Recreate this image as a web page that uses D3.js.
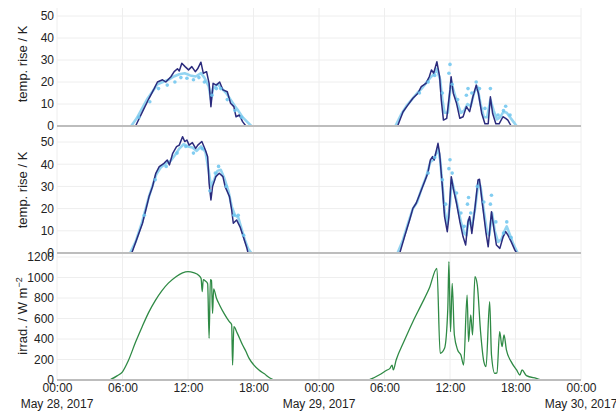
<!DOCTYPE html>
<html>
<head>
<meta charset="utf-8">
<script src="https://cdn.jsdelivr.net/npm/d3@7"></script>
<style>
  body { margin: 0; background: #fff; }
  text { font-family: "Liberation Sans", Arial, Helvetica, sans-serif; fill: #222; }
</style>
</head>
<body>
<svg id="chart" width="616" height="412"></svg>
<script>
// hours since May 28, 2017 00:00 -> value

// top panel: temperature rise / K
var rise1Measured = [
  [7.2,0],[7.83,6.5],[8.44,12.6],[8.9,17],[9.2,20],[9.66,21],[9.97,20],[10.43,22.4],[10.73,24.7],
  [11.04,26],[11.2,25],[11.44,28.5],[11.74,27],[12.05,25.5],[12.35,27],[12.66,24.7],[12.88,26],
  [13.18,29],[13.4,24],[13.7,24.7],[13.94,19.4],[14.1,8.8],[14.3,19.4],[14.6,18.6],[14.9,20],
  [15.2,16.4],[15.6,15.6],[15.9,10.3],[16.2,8.8],[16.4,4.2],[16.7,5],[17.0,2],[17.3,0],
  [31.2,0],[31.7,6.5],[32.14,9.5],[32.6,12.6],[33.06,14.9],[33.37,17.9],[33.8,19.4],[34.1,22.4],
  [34.3,25.5],[34.5,24],[34.8,29.2],[35.05,22.4],[35.2,11.8],[35.4,2.7],[35.7,3.5],[36.0,16.4],
  [36.1,22.4],[36.3,14.9],[36.6,10.3],[36.9,3.5],[37.2,4.2],[37.5,8.8],[37.8,6.5],[38.1,13.3],
  [38.4,18.6],[38.6,14.9],[38.9,5.8],[39.2,1],[39.5,1],[39.7,13.3],[39.9,5.8],[40.2,1],[40.5,1],
  [40.85,4.2],[41.1,3.5],[41.3,2.7],[41.6,0]
];
var rise1Model = [
  [6.8,0],[7.3,3.5],[7.8,8],[8.3,12.5],[8.8,16],[9.2,19],[9.7,20],[10.2,21],[10.7,22.5],[11.2,23.5],
  [11.7,24],[12.2,23],[12.7,22.5],[13.2,24],[13.5,22],[13.9,18],[14.1,12],[14.3,17],[14.7,19],
  [15.1,17],[15.5,15],[15.9,12],[16.3,9],[16.6,7],[17.0,4],[17.4,2],[17.8,0],
  [31.0,0],[31.5,5],[32.0,9],[32.5,12],[33.0,15],[33.4,17],[33.8,19.5],[34.2,22],[34.5,23.5],
  [34.8,26],[35.1,21],[35.3,12],[35.5,6],[35.8,6],[36.1,20],[36.4,15],[36.7,10],[37.0,6],[37.3,7],
  [37.6,10],[37.9,9],[38.2,15],[38.5,18],[38.8,10],[39.1,4],[39.4,4],[39.7,12],[40.0,7],[40.3,3],
  [40.6,4],[40.9,6.5],[41.2,6],[41.5,4],[41.8,2],[42.1,0]
];
var rise1Points = [
  [7.5,4],[8.5,11],[9.3,17],[10.1,18.6],[10.8,20],[11.35,22],[11.9,21.7],[12.5,21],[13.0,22],
  [13.5,20],[14.2,14],[14.6,17],[15.0,17],[15.6,12],[16.3,7],[16.9,4],
  [33.2,15],[34.0,20],[34.6,23],[35.3,15],[35.9,24],[36.0,28],[36.2,19],[36.7,12],[37.5,14],
  [37.65,17],[38.0,15],[38.4,20],[38.7,17],[39.2,8],[39.7,17],[40.4,5],[40.9,7],[41.1,9],[41.5,5]
];

// middle panel: temperature rise / K
var rise2Measured = [
  [6.85,0],[7.83,13.4],[8.44,25.4],[8.75,29.9],[9.05,35.9],[9.36,38.9],[9.8,40.4],[10.1,41.9],
  [10.3,39.7],[10.6,44.9],[10.95,47.9],[11.2,48.6],[11.5,52.4],[11.7,50.2],[11.9,50.9],[12.1,48.6],
  [12.4,49.7],[12.7,47.1],[12.9,48.6],[13.27,50.2],[13.6,46.3],[13.8,43.4],[13.94,31.4],[14.1,23.9],
  [14.25,29.9],[14.55,34.4],[14.86,35.9],[15.2,34.4],[15.4,29.9],[15.8,25.4],[16.0,19.4],
  [16.15,13.4],[16.45,14.9],[16.76,11.8],[17.06,7.3],[17.4,2.1],[17.5,0],
  [31.4,0],[31.83,7.3],[32.3,14.9],[32.6,20.1],[32.9,22.4],[33.2,26.1],[33.67,32.1],[33.97,35.9],
  [34.2,41.9],[34.4,43.4],[34.55,41.9],[34.9,49.4],[35.05,44.9],[35.3,29.9],[35.5,16.4],[35.75,9.6],
  [35.9,16.4],[36.12,34.4],[36.3,29.1],[36.6,22.4],[36.9,14.2],[37.2,7.3],[37.43,3.6],[37.65,14.1],
  [37.8,16.4],[38.0,8.8],[38.26,19.4],[38.56,32.9],[38.7,33.2],[39.0,20.9],[39.3,8.9],[39.5,2.8],
  [39.8,18.6],[39.95,13.4],[40.25,3.6],[40.56,2.1],[40.86,7.3],[41.1,9.6],[41.3,8.1],[41.6,5.1],
  [41.93,1.4],[42.1,0]
];
var rise2Model = [
  [6.7,0],[7.2,5],[7.8,14],[8.4,25],[8.8,31],[9.1,35.5],[9.5,38.5],[10.0,40.5],[10.4,41.5],[10.8,44],
  [11.2,47],[11.6,49],[12.0,48],[12.4,47.5],[12.8,46],[13.2,48],[13.6,45.5],[13.9,37],[14.1,30],
  [14.4,33],[14.7,37],[15.0,37.5],[15.3,34],[15.7,28],[16.0,21],[16.3,17],[16.6,16],[16.9,11],
  [17.2,6],[17.5,2],[17.8,0],
  [31.2,0],[31.7,6],[32.2,14],[32.6,20],[33.0,23],[33.4,29],[33.8,34],[34.2,41],[34.5,42],[34.9,47],
  [35.1,42],[35.3,31],[35.5,19],[35.75,13],[36.0,22],[36.15,33],[36.4,28],[36.7,21],[37.0,14],
  [37.3,9],[37.5,8],[37.7,15],[38.0,12],[38.3,20],[38.6,32],[38.8,30],[39.1,19],[39.4,9],[39.6,8],
  [39.85,18],[40.1,10],[40.4,5],[40.7,6],[41.0,10],[41.2,12],[41.5,8],[41.8,4],[42.2,0]
];
var rise2Points = [
  [8.0,17],[9.0,33],[10.0,39],[11.0,45],[11.8,48],[12.5,45],[13.3,47],[14.0,28],[14.5,36],
  [14.8,39],[15.5,30],[16.2,17],[16.6,17],[17.1,8],
  [34.0,36],[34.6,43],[35.3,33],[35.6,22],[35.9,38],[36.0,42],[36.2,36],[36.6,27],[37.0,18],
  [37.3,12],[37.6,22],[37.7,25],[37.9,18],[38.5,30],[39.1,23],[39.7,22],[39.8,26],[40.2,14],
  [40.9,9],[41.2,14],[41.6,7]
];

// bottom panel: irradiance / W m-2
var irradiance = [
  [0,0],[4.7,0],[5.0,10],[5.5,40],[6.0,80],[6.5,180],[7.2,370],[7.8,520],[8.4,660],[9.0,775],
  [9.6,870],[10.2,945],[10.9,1008],[11.5,1045],[12.0,1057],[12.5,1048],[13.0,1020],[13.2,990],
  [13.3,862],[13.4,980],[13.6,965],[13.8,940],[13.94,407],[14.05,980],[14.15,970],[14.25,650],
  [14.35,890],[14.6,800],[14.9,730],[15.3,650],[15.78,569],[16.0,540],[16.08,146],[16.2,520],
  [16.5,460],[17.0,341],[17.3,280],[17.6,211],[18.0,150],[18.5,98],[19.0,60],[19.5,20],[20.0,0],
  [28.5,0],[28.9,16],[29.5,49],[30.2,95],[30.5,114],[30.7,146],[30.8,98],[31.07,195],[31.8,380],
  [32.6,569],[33.4,740],[34.1,894],[34.8,1090],[35.1,260],[35.5,309],[35.8,700],[35.9,1155],
  [36.05,471],[36.2,943],[36.4,439],[36.7,293],[37.0,244],[37.25,146],[37.56,829],[37.7,374],
  [37.9,634],[38.07,439],[38.28,1008],[38.5,927],[38.8,471],[39.1,179],[39.3,130],[39.63,764],
  [39.8,244],[40.1,65],[40.3,70],[40.55,471],[40.77,325],[40.95,439],[41.16,293],[41.6,179],
  [42.1,98],[42.4,49],[42.6,98],[43.0,42],[43.9,16],[44.5,0],[48,0]
];

var riseTicks = [0, 10, 20, 30, 40, 50];
var irrTicks = [0, 200, 400, 600, 800, 1000, 1200];
var dateLabels = ["May 28, 2017", "May 29, 2017", "May 30, 2017"];

var svg = d3.select("#chart");
var start = new Date(2017, 4, 28, 0, 0);
var end = new Date(2017, 4, 30, 0, 0);
function toDate(h) { return d3.timeMinute.offset(start, Math.round(h * 60)); }

var x = d3.scaleTime().domain([start, end]).range([57, 581]);
var xTicks = d3.timeHour.every(6).range(start, d3.timeMinute.offset(end, 1));

var panels = [
  { top: 8, y: d3.scaleLinear().domain([0, 50]).range([126, 16]), ticks: riseTicks,
    title: "temp. rise / K", tc: 64 },
  { top: 126, y: d3.scaleLinear().domain([0, 50]).range([253, 142]), ticks: riseTicks,
    title: "temp. rise / K", tc: 190 },
  { top: 253, y: d3.scaleLinear().domain([0, 1200]).range([380, 257]), ticks: irrTicks,
    title: "irrad. / W m", tc: 316 }
];

// grids first
panels.forEach(function(p) {
  var g = svg.append("g");
  g.selectAll(".vg").data(xTicks).enter().append("line")
    .attr("x1", function(d) { return x(d); }).attr("x2", function(d) { return x(d); })
    .attr("y1", p.top).attr("y2", p.y(0))
    .attr("stroke", "#eeeeee").attr("stroke-width", 1);
  g.selectAll(".hg").data(p.ticks.slice(1)).enter().append("line")
    .attr("x1", x.range()[0]).attr("x2", x.range()[1])
    .attr("y1", function(d) { return p.y(d); }).attr("y2", function(d) { return p.y(d); })
    .attr("stroke", "#eeeeee").attr("stroke-width", 1);

  // y axis via d3 axis, no domain line
  var ax = svg.append("g").attr("transform", "translate(" + x.range()[0] + ",0)")
    .call(d3.axisLeft(p.y).tickValues(p.ticks).tickSize(0).tickPadding(3)
      .tickFormat(d3.format("d")));
  ax.select(".domain").remove();
  ax.selectAll("text").attr("font-size", 12)
    .attr("font-family", "Liberation Sans, Arial, sans-serif").attr("fill", "#333");

  var t = svg.append("text")
    .attr("transform", "translate(27," + p.tc + ") rotate(-90)")
    .attr("text-anchor", "middle").attr("font-size", 13).attr("fill", "#222")
    .text(p.title);
  if (p.title.indexOf("irrad") === 0) {
    t.append("tspan").attr("font-size", 9).attr("dy", -5).text("−2");
  }
});

var lineOf = function(p, curve) {
  return d3.line()
    .x(function(d) { return x(toDate(d[0])); })
    .y(function(d) { return p.y(d[1]); })
    .curve(curve || d3.curveLinear);
};

// split series at gaps (night) so lines aren't drawn across
function days(arr) {
  return [arr.filter(function(d) { return d[0] < 24; }), arr.filter(function(d) { return d[0] >= 24; })];
}

var tempSets = [
  { p: panels[0], model: rise1Model, meas: rise1Measured, pts: rise1Points },
  { p: panels[1], model: rise2Model, meas: rise2Measured, pts: rise2Points }
];

tempSets.forEach(function(s) {
  var g = svg.append("g");
  days(s.model).forEach(function(d) {
    g.append("path").attr("d", lineOf(s.p)(d)).attr("fill", "none")
      .attr("stroke", "#80cdef").attr("stroke-width", 2.6).attr("stroke-opacity", 0.85)
      .attr("stroke-linejoin", "round");
  });
  days(s.meas).forEach(function(d) {
    g.append("path").attr("d", lineOf(s.p)(d)).attr("fill", "none")
      .attr("stroke", "#2b2b7d").attr("stroke-width", 1.5).attr("stroke-linejoin", "round");
  });
  g.selectAll("circle").data(s.pts).enter().append("circle")
    .attr("cx", function(d) { return x(toDate(d[0])); })
    .attr("cy", function(d) { return s.p.y(d[1]); })
    .attr("r", 1.8).attr("fill", "#6cc4ee").attr("fill-opacity", 0.85);
});

svg.append("path").attr("d", lineOf(panels[2], d3.curveMonotoneX)(irradiance))
  .attr("fill", "none").attr("stroke", "#2f8a45").attr("stroke-width", 1.3)
  .attr("stroke-linejoin", "round");

// zero lines
panels.forEach(function(p) {
  svg.append("line").attr("x1", x.range()[0]).attr("x2", x.range()[1])
    .attr("y1", p.y(0)).attr("y2", p.y(0))
    .attr("stroke", "#bdbdbd").attr("stroke-width", 1.8);
});

// x axis
var xa = svg.append("g").attr("transform", "translate(0,381)")
  .call(d3.axisBottom(x).tickValues(xTicks).tickSize(0).tickPadding(2)
    .tickFormat(d3.timeFormat("%H:%M")));
xa.select(".domain").remove();
xa.selectAll("text").attr("font-size", 12)
  .attr("font-family", "Liberation Sans, Arial, sans-serif").attr("fill", "#333");

var midnights = xTicks.filter(function(d) { return d.getHours() === 0; });
svg.selectAll(".date").data(midnights).enter().append("text")
  .attr("x", function(d) { return x(d); }).attr("y", 408)
  .attr("text-anchor", "middle").attr("font-size", 12).attr("fill", "#333")
  .text(function(d, i) { return dateLabels[i]; });
</script>
</body>
</html>
